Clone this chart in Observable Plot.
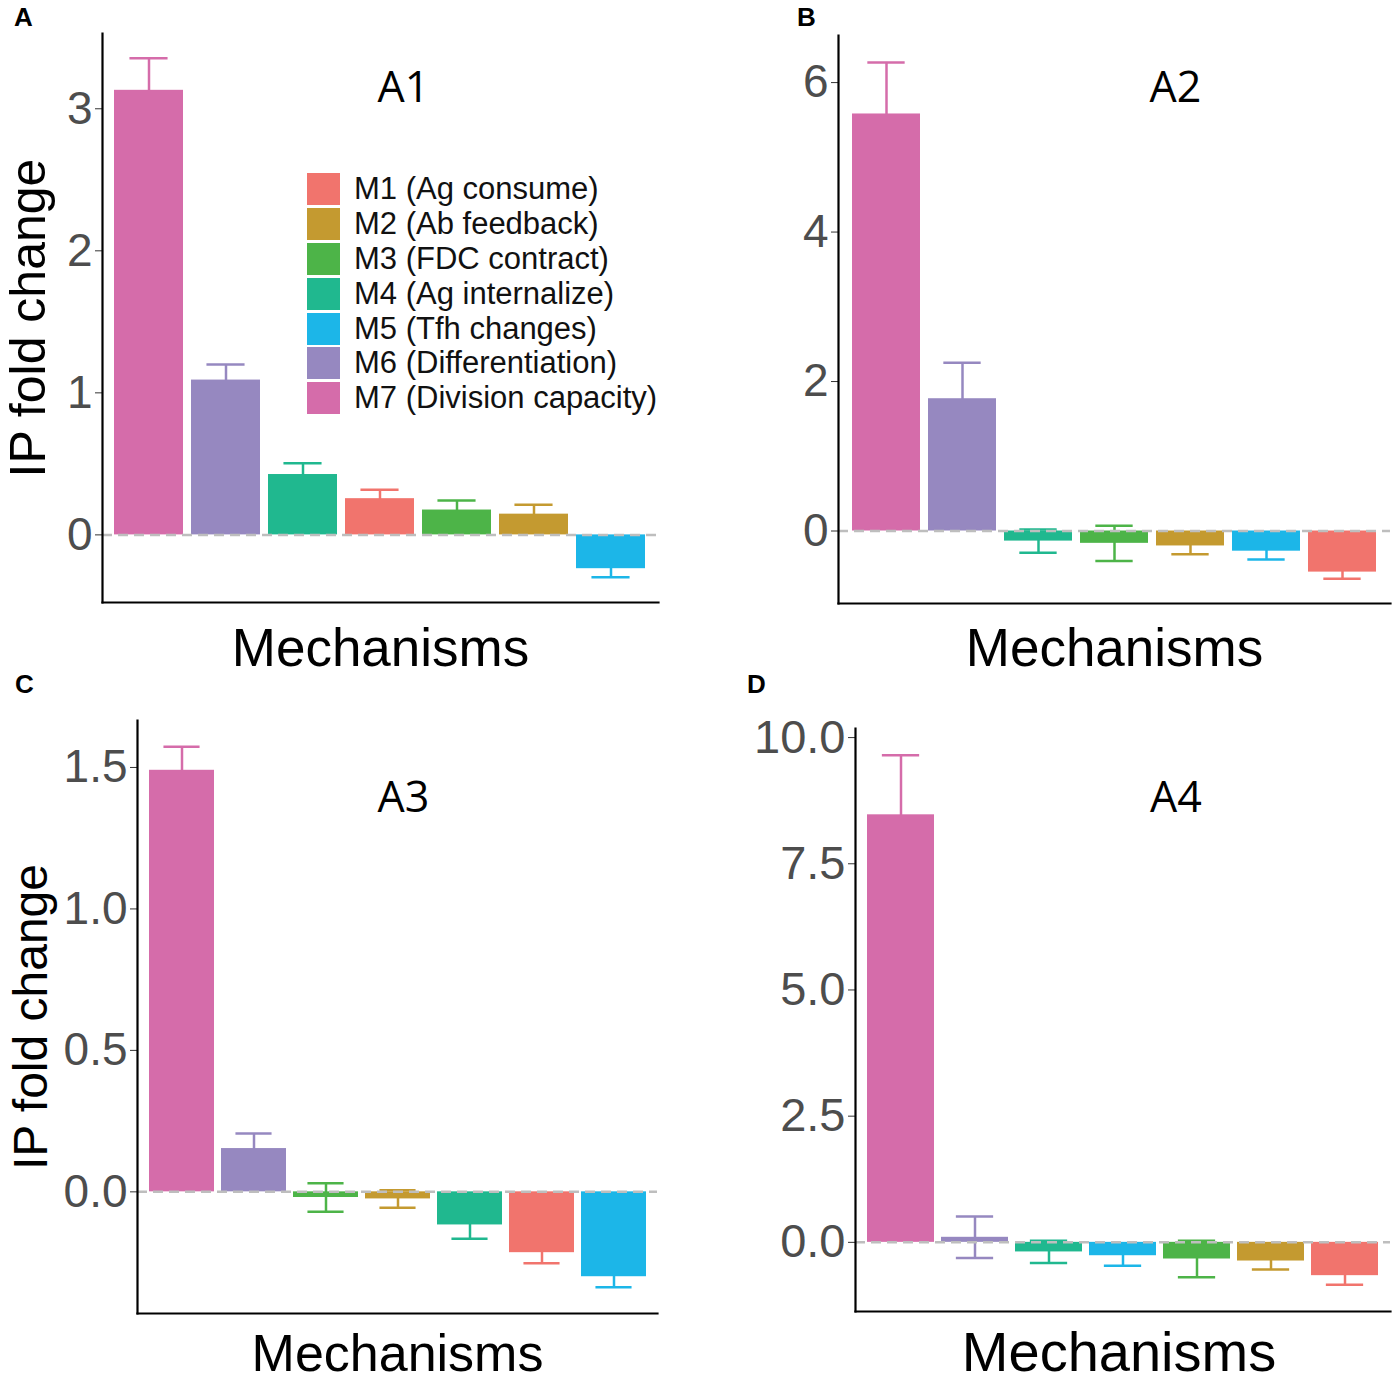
<!DOCTYPE html>
<html>
<head>
<meta charset="utf-8">
<script src="https://cdn.jsdelivr.net/npm/d3@7"></script>
<script src="https://cdn.jsdelivr.net/npm/@observablehq/plot@0.6"></script>
<style>
  html, body { margin: 0; padding: 0; background: #fff; }
  #root { position: relative; width: 1392px; height: 1382px; background: #fff; font-family: "Liberation Sans", Arial, sans-serif; }
  .panel { position: absolute; }
  .letter { position: absolute; font-weight: bold; font-size: 26px; color: #000; font-family: "Liberation Sans", Arial, sans-serif; }
  .legend { position: absolute; font-family: "Liberation Sans", Arial, sans-serif; font-size: 31px; color: #111; }
  .legend .row { display: flex; align-items: center; height: 34.8px; }
  .legend .sw { width: 33px; height: 32px; margin-right: 14px; }
</style>
</head>
<body>
<div id="root"></div>
<script>
// ---- data ----
const mechanisms = ["M1", "M2", "M3", "M4", "M5", "M6", "M7"];
const mechanismNames = ["M1 (Ag consume)", "M2 (Ab feedback)", "M3 (FDC contract)", "M4 (Ag internalize)", "M5 (Tfh changes)", "M6 (Differentiation)", "M7 (Division capacity)"];
const mechanismColors = ["#F1746D", "#C49A30", "#4DB448", "#20B88F", "#1CB6E8", "#9688C0", "#D56CAA"];

const a1Order = ["M7", "M6", "M4", "M1", "M3", "M2", "M5"];
const a1Mean  = [3.13, 1.09, 0.425, 0.255, 0.175, 0.146, -0.238];
const a1Sd    = [0.225, 0.11, 0.08, 0.063, 0.067, 0.067, 0.061];

const a2Order = ["M7", "M6", "M4", "M3", "M2", "M5", "M1"];
const a2Mean  = [5.58, 1.77, -0.135, -0.165, -0.2, -0.27, -0.55];
const a2Sd    = [0.69, 0.48, 0.155, 0.235, 0.11, 0.11, 0.09];

const a3Order = ["M7", "M6", "M3", "M2", "M4", "M1", "M5"];
const a3Mean  = [1.49, 0.153, -0.02, -0.025, -0.117, -0.215, -0.30];
const a3Sd    = [0.083, 0.053, 0.05, 0.031, 0.049, 0.037, 0.037];

const a4Order = ["M7", "M6", "M4", "M5", "M3", "M2", "M1"];
const a4Mean  = [8.47, 0.1, -0.19, -0.265, -0.33, -0.37, -0.66];
const a4Sd    = [1.18, 0.41, 0.22, 0.2, 0.36, 0.17, 0.18];

const a1Ticks = [0, 1, 2, 3];
const a2Ticks = [0, 2, 4, 6];
const a3Ticks = [0, 0.5, 1.0, 1.5];
const a4Ticks = [0, 2.5, 5.0, 7.5, 10.0];

const panelLetters = ["A", "B", "C", "D"];
const panelTitles = ["A1", "A2", "A3", "A4"];
const yTitle = "IP fold change";
const xTitle = "Mechanisms";

// ---- drawing ----
const root = document.getElementById("root");

function panel(cfg) {
  const data = cfg.order.map((m, i) => ({m, v: cfg.mean[i], sd: cfg.sd[i]}));
  const plotW = cfg.width - cfg.ml - cfg.mr;
  const step = plotW / (cfg.order.length - 0.1 + 0.3);
  const capInset = 0.2 * step;
  const errStyle = {x: "m", stroke: "m", strokeWidth: 2.5};
  const marks = [
    Plot.ruleX(data, {...errStyle, y1: d => d.v - d.sd, y2: d => d.v + d.sd}),
    Plot.tickY(data, {...errStyle, y: d => d.v + d.sd, insetLeft: capInset, insetRight: capInset}),
    Plot.tickY(data, {...errStyle, y: d => d.v - d.sd, insetLeft: capInset, insetRight: capInset}),
    Plot.barY(data, {x: "m", y: "v", fill: "m"}),
    Plot.ruleY([0], {stroke: "#BEBEBE", strokeWidth: 2.5, strokeDasharray: "10,6"}),
    Plot.axisY({ticks: cfg.ticks, tickFormat: cfg.fmt, fontSize: cfg.tickFont, tickSize: 7, tickPadding: 3, label: null, fill: "#4D4D4D", stroke: "#333"}),
    Plot.frame({anchor: "left", stroke: "#000", strokeWidth: 2.2}),
    Plot.frame({anchor: "bottom", stroke: "#000", strokeWidth: 2.2}),
    Plot.text([cfg.title], {frameAnchor: "top", lineAnchor: "middle", textAnchor: "middle", dx: cfg.titleDx, dy: cfg.titleDy, fontSize: 43, fontFamily: "Open Sans, DejaVu Sans, sans-serif", fill: "#000"}),
    Plot.text([xTitle], {frameAnchor: "bottom", lineAnchor: "middle", textAnchor: "middle", dx: cfg.xlabDx, dy: cfg.xlabDy, fontSize: cfg.xlabFont, fill: "#000"})
  ];
  if (cfg.ylab) {
    marks.push(Plot.text([yTitle], {frameAnchor: "left", textAnchor: "middle", lineAnchor: "middle", dx: cfg.ylabDx, rotate: -90, fontSize: cfg.ylabFont, fill: "#000"}));
  }
  const svg = Plot.plot({
    width: cfg.width,
    height: cfg.height,
    marginLeft: cfg.ml, marginRight: cfg.mr, marginTop: cfg.mt, marginBottom: cfg.mb,
    style: {fontFamily: "Liberation Sans, Arial, sans-serif", background: "transparent", overflow: "visible"},
    x: {domain: cfg.order, paddingInner: 0.1, paddingOuter: 0.15, axis: null},
    y: {domain: cfg.domain, axis: null},
    color: {domain: mechanisms, range: mechanismColors},
    marks
  });
  svg.classList.add("panel");
  svg.style.left = cfg.left + "px";
  svg.style.top = cfg.top + "px";
  root.appendChild(svg);
}

const fmtInt = d3.format("d");
const fmt1 = d3.format(".1f");

panel({left: 0, top: 0, width: 696, height: 680, ml: 102, mr: 38, mt: 33, mb: 78,
  order: a1Order, mean: a1Mean, sd: a1Sd, domain: [-0.476, 3.53], ticks: a1Ticks, fmt: fmtInt, tickFont: 46,
  title: panelTitles[0], titleDx: 23, titleDy: 55, xlabDx: 0, xlabDy: 47, xlabFont: 53, ylab: true, ylabDx: -74, ylabFont: 50});

panel({left: 696, top: 0, width: 696, height: 680, ml: 142, mr: 2, mt: 35, mb: 77,
  order: a2Order, mean: a2Mean, sd: a2Sd, domain: [-0.97, 6.63], ticks: a2Ticks, fmt: fmtInt, tickFont: 46,
  title: panelTitles[1], titleDx: 61, titleDy: 53, xlabDx: 0, xlabDy: 46, xlabFont: 53, ylab: false});

panel({left: 0, top: 680, width: 696, height: 702, ml: 137, mr: 39, mt: 40, mb: 69,
  order: a3Order, mean: a3Mean, sd: a3Sd, domain: [-0.43, 1.666], ticks: a3Ticks, fmt: fmt1, tickFont: 46,
  title: panelTitles[2], titleDx: 6, titleDy: 78, xlabDx: 0, xlabDy: 41, xlabFont: 52, ylab: true, ylabDx: -106, ylabFont: 48});

panel({left: 696, top: 680, width: 696, height: 702, ml: 159, mr: 2, mt: 48, mb: 71,
  order: a4Order, mean: a4Mean, sd: a4Sd, domain: [-1.37, 10.18], ticks: a4Ticks, fmt: fmt1, tickFont: 47,
  title: panelTitles[3], titleDx: 53, titleDy: 70, xlabDx: -4, xlabDy: 42, xlabFont: 56, ylab: false});

// panel letters
const letterPos = [[14, 2], [797, 2], [15, 669], [747, 669]];
panelLetters.forEach((t, i) => {
  const el = document.createElement("div");
  el.className = "letter";
  el.textContent = t;
  el.style.left = letterPos[i][0] + "px";
  el.style.top = letterPos[i][1] + "px";
  root.appendChild(el);
});

// legend (panel A)
const legend = document.createElement("div");
legend.className = "legend";
legend.style.left = "307px";
legend.style.top = "172px";
mechanisms.forEach((m, i) => {
  const row = document.createElement("div");
  row.className = "row";
  const sw = document.createElement("div");
  sw.className = "sw";
  sw.style.background = mechanismColors[i];
  const lab = document.createElement("span");
  lab.textContent = mechanismNames[i];
  row.appendChild(sw);
  row.appendChild(lab);
  legend.appendChild(row);
});
root.appendChild(legend);
</script>
</body>
</html>
